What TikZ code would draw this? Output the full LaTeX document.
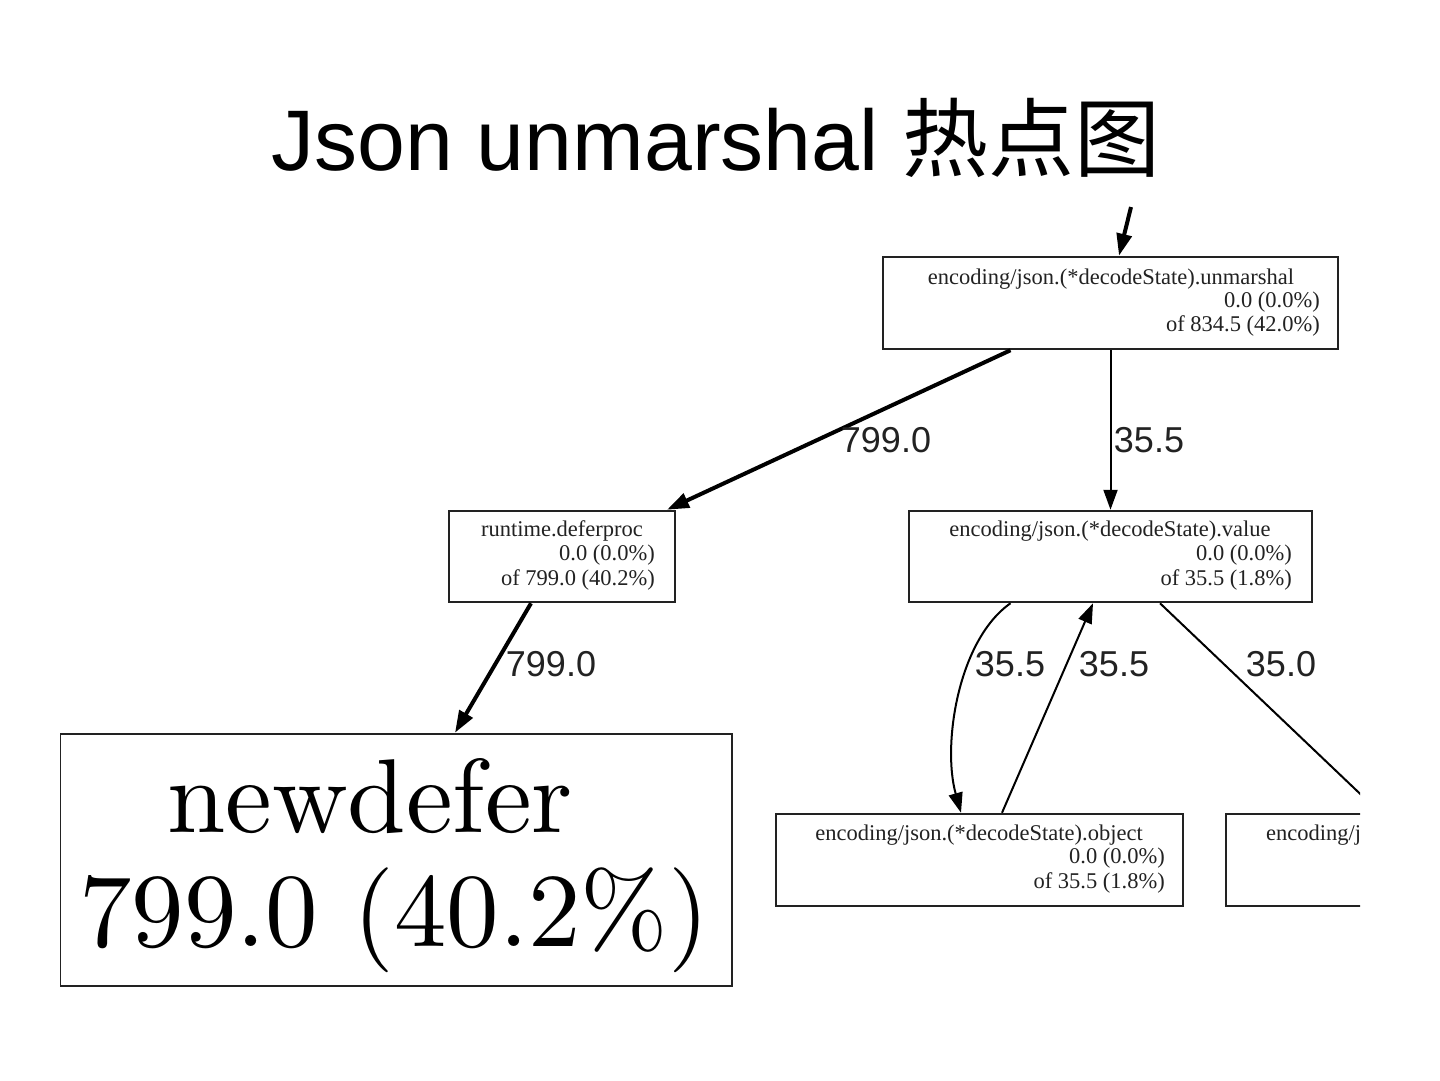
\documentclass[tikz,border=0pt]{standalone}
\usepackage{fontspec}
\usetikzlibrary{arrows.meta,calc}
\newfontfamily\titlefont{Liberation Sans}
\newfontfamily\cjkfont{Noto Sans CJK SC}
\newfontfamily\nodefont{Liberation Serif}
\newfontfamily\labfont{Liberation Sans}
\newfontfamily\lmten{lmroman10-regular.otf}
\definecolor{ink}{HTML}{222222}
\begin{document}
\begin{tikzpicture}[x=1pt,y=-1pt,
  fbox/.style={draw=ink,line width=2.5pt,inner sep=0pt,fill=none},
  ntxt/.style={inner sep=0pt,text=ink,font=\nodefont\fontsize{22.5}{24}\selectfont},
  elab/.style={inner sep=0pt,text=ink,font=\labfont\fontsize{36}{40}\selectfont},
  thickedge/.style={line width=4pt,draw=black,-{Triangle[length=22pt,width=15pt]}},
  thinedge/.style={line width=2pt,draw=black,-{Triangle[length=20pt,width=14pt]}},
]
\useasboundingbox (0,0) rectangle (1440,1080);
\fill[white] (0,0) rectangle (1440,1080);
% title
\node[anchor=base,inner sep=0pt] (title) at (716,170)
  {\titlefont\fontsize{86}{100}\selectfont Json unmarshal {\cjkfont 热点图}};
\begin{scope}
\clip (60,195) rectangle (1360,1000);
% boxes
\node[fbox,minimum width=455pt,minimum height=92pt] (unm) at (1110.5,303) {};
\node[fbox,minimum width=226pt,minimum height=91pt] (defer) at (562,556.5) {};
\node[fbox,minimum width=403pt,minimum height=91pt] (value) at (1110.5,556.5) {};
\node[fbox,minimum width=407pt,minimum height=92pt] (obj) at (979.5,860) {};
\node[fbox,minimum width=440pt,minimum height=92pt] (lit) at (1446,860) {};
\node[fbox,minimum width=672pt,minimum height=252pt] (nd) at (396,860) {};
% box texts
\node[ntxt] (unmA) at (1111,279) {encoding/json.(*decodeState).unmarshal};
\node[ntxt,anchor=east] (unmB) at (1320,302) {0.0 (0.0\%)};
\node[ntxt,anchor=east] (unmC) at (1320,326) {of 834.5 (42.0\%)};
\node[ntxt] (defA) at (562,531) {runtime.deferproc};
\node[ntxt,anchor=east] (defB) at (655,555) {0.0 (0.0\%)};
\node[ntxt,anchor=east] (defC) at (655,580) {of 799.0 (40.2\%)};
\node[ntxt] (valA) at (1110,531) {encoding/json.(*decodeState).value};
\node[ntxt,anchor=east] (valB) at (1292,555) {0.0 (0.0\%)};
\node[ntxt,anchor=east] (valC) at (1292,580) {of 35.5 (1.8\%)};
\node[ntxt] (objA) at (979,835) {encoding/json.(*decodeState).object};
\node[ntxt,anchor=east] (objB) at (1165,858) {0.0 (0.0\%)};
\node[ntxt,anchor=east] (objC) at (1165,883) {of 35.5 (1.8\%)};
\node[ntxt,anchor=west] (litA) at (1266,835) {encoding/json};
\node[anchor=base,inner sep=0pt,font=\lmten\fontsize{105}{110}\selectfont] (ndA) at (370,832) {newdefer};
\node[anchor=base,inner sep=0pt,font=\lmten\fontsize{105}{110}\selectfont] (ndB) at (394,946) {799.0 (40.2\%)};
% edges
\coordinate (topin) at (1131,207);
\draw[thickedge] (topin) -- ([xshift=8.5pt]unm.north);
\draw[thickedge] ([xshift=-100pt]unm.south) -- ([xshift=105pt]defer.north);
\draw[thinedge] (unm.south) -- (value.north);
\draw[thickedge] ([xshift=-31pt]defer.south) -- ([xshift=59pt]nd.north);
\draw[thinedge] ([xshift=-100pt]value.south) .. controls (958,640) and (942,745) .. ([xshift=-18.5pt]obj.north);
\draw[thinedge] ([xshift=22.5pt]obj.north) -- ([xshift=-17.5pt]value.south);
\draw[thinedge] ([xshift=49.5pt]value.south) -- ([xshift=-66pt]lit.north);
% edge labels
\node[elab] (l1) at (886,440) {799.0};
\node[elab] (l2) at (1149,440) {35.5};
\node[elab] (l3) at (551,664) {799.0};
\node[elab] (l4) at (1010,664) {35.5};
\node[elab] (l5) at (1114,664) {35.5};
\node[elab] (l6) at (1281,664) {35.0};
\end{scope}
\end{tikzpicture}
\end{document}
